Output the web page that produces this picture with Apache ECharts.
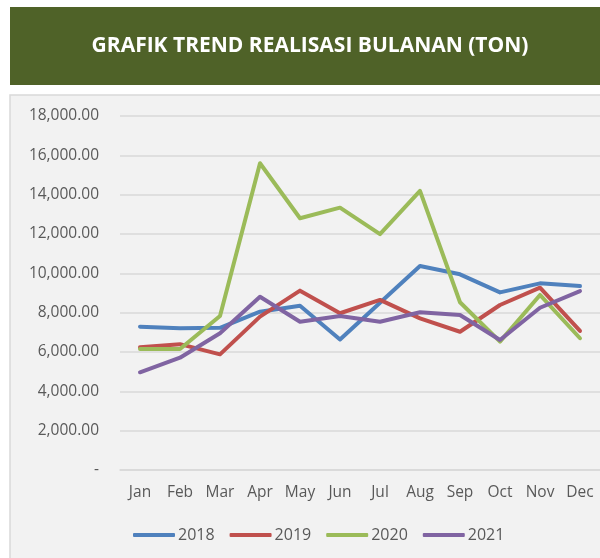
<!DOCTYPE html>
<html>
<head>
<meta charset="utf-8">
<script src="https://cdn.jsdelivr.net/npm/echarts@6/dist/echarts.min.js"></script>
<style>
html,body{margin:0;padding:0;background:#ffffff;}
#chart{width:600px;height:558px;}
</style>
</head>
<body>
<div id="chart"></div>
<script>
var titleText = 'GRAFIK TREND REALISASI BULANAN (TON)';
var months = ['Jan','Feb','Mar','Apr','May','Jun','Jul','Aug','Sep','Oct','Nov','Dec'];
var seriesNames = ['2018','2019','2020','2021'];
var v2018 = [7290, 7210, 7230, 8050, 8350, 6640, 8500, 10370, 9950, 9030, 9490, 9350];
var v2019 = [6240, 6400, 5880, 7800, 9120, 7970, 8650, 7710, 7030, 8390, 9270, 7070];
var v2020 = [6150, 6150, 7830, 15600, 12800, 13340, 11990, 14190, 8530, 6530, 8900, 6700];
var v2021 = [4970, 5710, 6950, 8810, 7540, 7830, 7540, 8020, 7880, 6610, 8250, 9100];
var yTicks = [0, 2000, 4000, 6000, 8000, 10000, 12000, 14000, 16000, 18000];
var colors = ['#4F81BD', '#C0504D', '#9BBB59', '#8064A2'];

var values = [v2018, v2019, v2020, v2021];
var font = '"Open Sans", "Noto Sans", sans-serif';

function fmt(v) {
  if (v === 0) return '-';
  return v.toLocaleString('en-US', {minimumFractionDigits: 2, maximumFractionDigits: 2});
}

var chart = echarts.init(document.getElementById('chart'), null, {renderer: 'canvas'});
var option = {
  animation: false,
  backgroundColor: '#ffffff',
  graphic: [
    {type: 'rect', z: -10, shape: {x: 10, y: 7, width: 590, height: 78}, style: {fill: '#4F6228'}},
    {type: 'rect', z: -10, shape: {x: 10, y: 95, width: 591, height: 470}, style: {fill: '#F2F2F2', stroke: '#D9D9D9', lineWidth: 1.5}},
    {type: 'text', z: 10, x: 310, y: 46, style: {text: titleText, fill: '#ffffff', font: 'bold 21px ' + font, textAlign: 'center', textVerticalAlign: 'middle'}}
  ],
  grid: {left: 120, top: 116, width: 481, height: 354, containLabel: false},
  legend: {
    data: seriesNames,
    top: 522,
    left: 128,
    itemWidth: 42,
    itemHeight: 4,
    itemGap: 15,
    icon: 'roundRect',
    textStyle: {color: '#595959', fontSize: 16, fontFamily: font, padding: [0, 0, 0, -2]}
  },
  xAxis: {
    type: 'category',
    data: months,
    boundaryGap: true,
    axisLine: {show: true, lineStyle: {color: '#D9D9D9', width: 1.5}},
    axisTick: {show: false},
    axisLabel: {color: '#595959', fontSize: 15.5, fontFamily: font, margin: 15}
  },
  yAxis: {
    type: 'value',
    min: 0,
    max: 18000,
    interval: 2000,
    axisLine: {show: false},
    axisTick: {show: false},
    splitLine: {lineStyle: {color: '#D9D9D9', width: 1.5}},
    axisLabel: {color: '#595959', fontSize: 15.5, fontFamily: font, margin: 21,
      formatter: function (v) { return fmt(v); }}
  },
  series: seriesNames.map(function (n, i) {
    return {
      name: n,
      type: 'line',
      data: values[i],
      symbol: 'none',
      lineStyle: {width: 4, color: colors[i], cap: 'round', join: 'round'},
      itemStyle: {color: colors[i]}
    };
  })
};
chart.setOption(option);
</script>
</body>
</html>
